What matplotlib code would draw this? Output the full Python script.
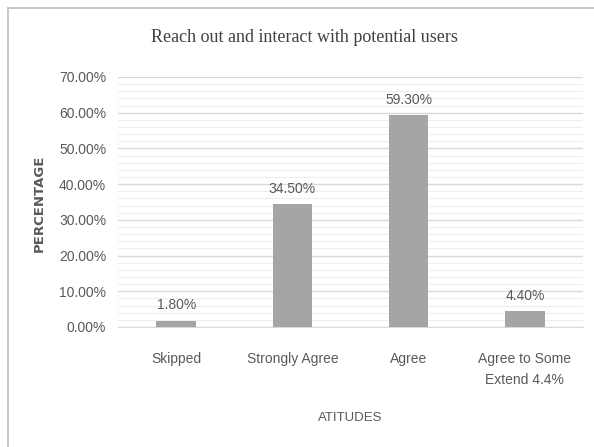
import matplotlib.pyplot as plt
from matplotlib.lines import Line2D
from matplotlib.ticker import MultipleLocator, FuncFormatter

# data
categories = ['Skipped', 'Strongly Agree', 'Agree', 'Agree to Some\nExtend 4.4%']
values = [1.8, 34.5, 59.3, 4.4]
labels = ['1.80%', '34.50%', '59.30%', '4.40%']

narrow = ['Liberation Sans', 'DejaVu Sans']
text_col = '#595959'

fig = plt.figure(figsize=(5.94, 4.47), dpi=100)
W, H = 594, 447
ax = fig.add_axes([118 / W, 1 - 327 / H, (583 - 118) / W, (327 - 77) / H])

x = range(len(categories))
ax.bar(x, values, width=0.34, color='#a5a5a5', zorder=3)
for i, v in enumerate(values):
    ax.text(i, v + 2.3, labels[i], ha='center', va='bottom', fontsize=10,
            color=text_col, family=narrow)

ax.set_xlim(-0.5, 3.5)
ax.set_ylim(0, 70)
ax.yaxis.set_major_locator(MultipleLocator(10))
ax.yaxis.set_minor_locator(MultipleLocator(2))
ax.yaxis.set_major_formatter(FuncFormatter(lambda v, p: f'{v:.2f}%'))
ax.grid(axis='y', which='major', color='#d9d9d9', lw=1, zorder=0)
ax.grid(axis='y', which='minor', color='#eeeeee', lw=0.8, zorder=0)
ax.tick_params(axis='both', which='both', length=0, colors=text_col)
ax.tick_params(axis='y', pad=8.5)
ax.tick_params(axis='x', pad=18)
for lab in ax.get_yticklabels():
    lab.set_family(narrow)
    lab.set_fontsize(10)
ax.set_xticks(list(x))
ax.set_xticklabels(categories, family=narrow, fontsize=10, color=text_col,
                   va='top', linespacing=1.6)
for s in ['top', 'right', 'left']:
    ax.spines[s].set_visible(False)
ax.spines['bottom'].set_color('#d9d9d9')

fig.text(304 / W, 1 - 38 / H, 'Reach out and interact with potential users',
         ha='center', va='center', fontsize=13, family='Liberation Serif',
         color='#404040')
fig.text(39 / W, 1 - 203 / H, 'PERCENTAGE', rotation=90, ha='center',
         va='center', fontsize=9.5, fontweight='bold', color=text_col)
fig.text(350 / W, 1 - 418 / H, 'ATITUDES', ha='center', va='center',
         fontsize=9.5, family=narrow, color=text_col)

# chart border (left and top edges visible in the reference)
fig.add_artist(Line2D([8 / W, 8 / W], [0, 1 - 8 / H], color='#bfbfbf', lw=1.2))
fig.add_artist(Line2D([8 / W, 1], [1 - 8 / H, 1 - 8 / H], color='#bfbfbf', lw=1.2))

fig.savefig('out.png', dpi=100, facecolor='white')
